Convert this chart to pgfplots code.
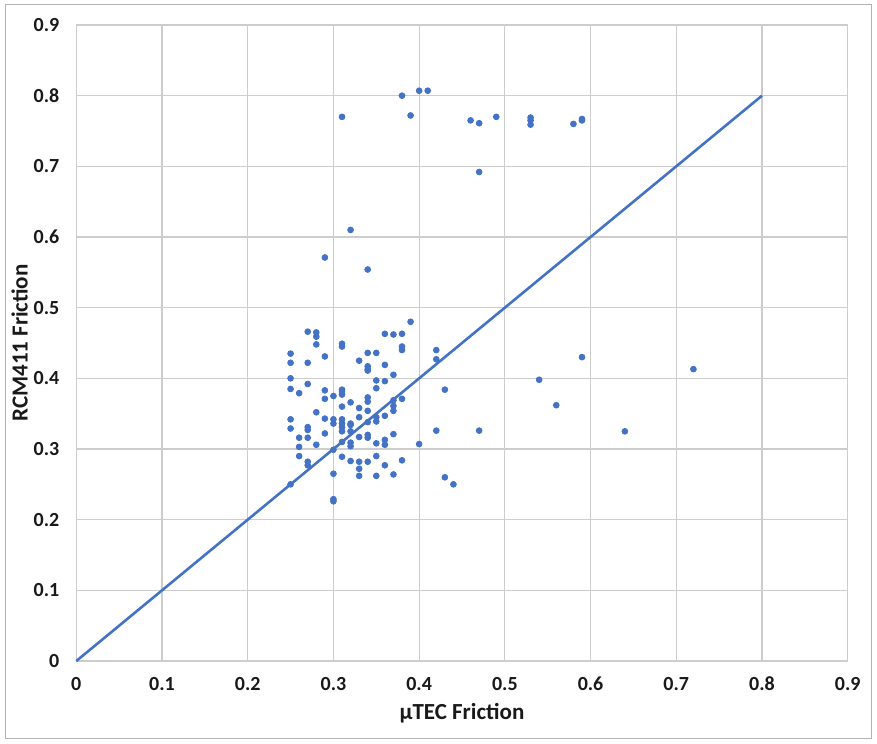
\documentclass[border=0pt]{standalone}
\usepackage{pgfplots}
\pgfplotsset{compat=1.18}
\usepackage{fontspec}
\setmainfont{Carlito}
\definecolor{ptblue}{RGB}{68,114,196}
\definecolor{gridgray}{RGB}{205,205,205}
\begin{document}
\begin{tikzpicture}
\begin{axis}[
  scale only axis,
  width=385.7pt, height=318pt,
  xmin=0, xmax=0.9, ymin=0, ymax=0.9,
  xtick={0,0.1,...,0.9}, ytick={0,0.1,...,0.9},
  xticklabels={0,0.1,0.2,0.3,0.4,0.5,0.6,0.7,0.8,0.9},
  yticklabels={0,0.1,0.2,0.3,0.4,0.5,0.6,0.7,0.8,0.9},
  major tick length=0pt,
  grid=major,
  major grid style={draw=gridgray, line width=0.6pt},
  axis line style={draw=gridgray, line width=0.6pt},
  tick label style={font=\fontsize{10}{11}\selectfont\bfseries, text=black!90},
  xticklabel style={yshift=-4.5pt},
  yticklabel style={xshift=-5pt},
  xlabel={µTEC Friction},
  ylabel={RCM411 Friction},
  label style={font=\fontsize{11.5}{13}\selectfont\bfseries, text=black!90},
  xlabel style={yshift=0.5pt},
  ylabel style={yshift=-4pt},
  clip=false,
]
\addplot[ptblue, line width=1.3pt] coordinates {(0,0) (0.8,0.8)};
\addplot[only marks, mark=*, mark size=1.45pt, ptblue, mark options={draw=ptblue, fill=ptblue}] table {
x y
0.39 0.480
0.27 0.466
0.28 0.465
0.28 0.459
0.28 0.448
0.36 0.463
0.37 0.462
0.38 0.463
0.31 0.449
0.31 0.445
0.38 0.445
0.38 0.440
0.42 0.440
0.42 0.427
0.25 0.435
0.25 0.422
0.27 0.422
0.29 0.431
0.34 0.436
0.35 0.436
0.33 0.425
0.34 0.417
0.34 0.413
0.34 0.411
0.36 0.419
0.37 0.405
0.35 0.397
0.36 0.396
0.35 0.386
0.25 0.400
0.25 0.385
0.26 0.379
0.27 0.392
0.29 0.383
0.29 0.371
0.30 0.375
0.31 0.384
0.31 0.381
0.31 0.377
0.32 0.366
0.31 0.360
0.34 0.373
0.34 0.367
0.33 0.358
0.34 0.354
0.37 0.369
0.37 0.361
0.37 0.354
0.38 0.371
0.43 0.384
0.28 0.352
0.29 0.343
0.25 0.342
0.25 0.329
0.30 0.342
0.30 0.336
0.31 0.342
0.31 0.336
0.31 0.331
0.31 0.325
0.32 0.336
0.32 0.334
0.33 0.345
0.35 0.345
0.35 0.339
0.36 0.347
0.34 0.338
0.27 0.331
0.27 0.327
0.27 0.316
0.26 0.316
0.26 0.303
0.29 0.322
0.28 0.306
0.32 0.325
0.32 0.309
0.32 0.304
0.34 0.320
0.34 0.316
0.31 0.310
0.33 0.317
0.35 0.308
0.36 0.313
0.36 0.306
0.37 0.321
0.30 0.299
0.40 0.307
0.42 0.326
0.47 0.326
0.26 0.290
0.27 0.282
0.27 0.277
0.31 0.289
0.32 0.283
0.33 0.282
0.33 0.272
0.33 0.262
0.34 0.282
0.35 0.290
0.36 0.277
0.38 0.284
0.30 0.265
0.35 0.262
0.37 0.264
0.25 0.250
0.30 0.229
0.30 0.226
0.43 0.260
0.44 0.250
0.31 0.770
0.38 0.800
0.39 0.772
0.40 0.807
0.41 0.807
0.46 0.765
0.47 0.761
0.49 0.770
0.53 0.769
0.53 0.765
0.53 0.759
0.58 0.760
0.59 0.767
0.59 0.765
0.47 0.692
0.32 0.610
0.29 0.571
0.34 0.554
0.54 0.398
0.56 0.362
0.59 0.430
0.64 0.325
0.72 0.413
};
\end{axis}
\draw[gray!60, line width=0.5pt] ([shift={(-35.2pt,-38.5pt)}]current axis.south west) rectangle ([shift={(12pt,10pt)}]current axis.north east);
\useasboundingbox ([shift={(-38.15pt,-41pt)}]current axis.south west) rectangle ([shift={(14.65pt,12.5pt)}]current axis.north east);
\end{tikzpicture}
\end{document}
